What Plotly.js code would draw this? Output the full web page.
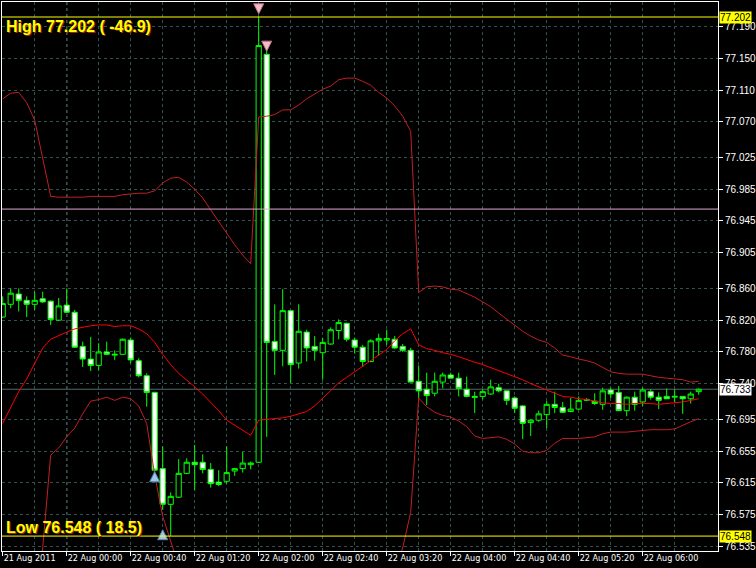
<!DOCTYPE html>
<html>
<head>
<meta charset="utf-8">
<script src="https://cdn.plot.ly/plotly-3.0.1.min.js"></script>
<style>
html,body{margin:0;padding:0;background:#000;}
#chart{width:756px;height:568px;}
</style>
</head>
<body>
<div id="chart"></div>
<script>
// ---- bar times (M5) ----
const times21 = ['23:20','23:25','23:30','23:35','23:40','23:45','23:50','23:55'];
const times22 = ['00:00','00:05','00:10','00:15','00:20','00:25','00:30','00:35','00:40','00:45','00:50','00:55',
  '01:00','01:05','01:10','01:15','01:20','01:25','01:30','01:35','01:40','01:45','01:50','01:55',
  '02:00','02:05','02:10','02:15','02:20','02:25','02:30','02:35','02:40','02:45','02:50','02:55',
  '03:00','03:05','03:10','03:15','03:20','03:25','03:30','03:35','03:40','03:45','03:50','03:55',
  '04:00','04:05','04:10','04:15','04:20','04:25','04:30','04:35','04:40','04:45','04:50','04:55',
  '05:00','05:05','05:10','05:15','05:20','05:25','05:30','05:35','05:40','05:45','05:50','05:55',
  '06:00','06:05','06:10','06:15','06:20','06:25','06:30','06:35'];

// ---- OHLC ----
const openP = [76.824,76.840,76.853,76.845,76.840,76.847,76.844,76.820,76.839,76.830,
  76.787,76.771,76.763,76.780,76.776,76.777,76.795,76.769,76.750,76.729,
  76.633,76.588,76.597,76.627,76.641,76.641,76.632,76.616,76.617,76.630,
  76.633,76.638,76.641,77.155,76.793,76.782,76.832,76.766,76.805,76.787,
  76.779,76.790,76.807,76.816,76.795,76.786,76.768,76.794,76.795,76.796,
  76.787,76.782,76.743,76.733,76.728,76.742,76.751,76.747,76.733,76.724,
  76.724,76.727,76.735,76.731,76.722,76.712,76.691,76.694,76.701,76.714,
  76.710,76.705,76.708,76.719,76.718,76.714,76.732,76.729,76.706,76.723,
  76.717,76.730,76.723,76.724,76.723,76.724,76.721,76.730];
const highP = [76.850,76.860,76.860,76.850,76.856,76.856,76.845,76.848,76.860,76.833,
  76.793,76.799,76.791,76.793,76.782,76.797,76.798,76.772,76.753,76.730,
  76.661,76.603,76.645,76.646,76.663,76.651,76.640,76.631,76.661,76.634,
  76.654,76.642,77.202,77.160,76.840,76.859,76.833,76.840,76.808,76.800,
  76.798,76.811,76.821,76.817,76.798,76.789,76.796,76.803,76.808,76.800,
  76.790,76.785,76.763,76.754,76.754,76.754,76.754,76.754,76.749,76.730,
  76.733,76.745,76.740,76.731,76.724,76.713,76.695,76.706,76.718,76.730,
  76.717,76.722,76.724,76.722,76.728,76.735,76.735,76.737,76.724,76.730,
  76.735,76.733,76.729,76.734,76.733,76.724,76.730,76.734];
const lowP = [76.823,76.835,76.831,76.824,76.833,76.842,76.814,76.819,76.829,76.785,
  76.761,76.756,76.757,76.776,76.770,76.777,76.766,76.748,76.711,76.629,
  76.581,76.548,76.596,76.626,76.606,76.627,76.609,76.611,76.614,76.624,
  76.628,76.632,76.640,76.673,76.751,76.762,76.741,76.759,76.768,76.769,
  76.745,76.789,76.796,76.793,76.778,76.761,76.767,76.775,76.789,76.784,
  76.780,76.742,76.722,76.713,76.724,76.734,76.747,76.724,76.723,76.703,
  76.720,76.726,76.729,76.713,76.703,76.670,76.674,76.692,76.684,76.703,
  76.703,76.704,76.707,76.718,76.713,76.707,76.722,76.706,76.699,76.706,
  76.712,76.720,76.708,76.721,76.716,76.702,76.715,76.726];
const closeP = [76.841,76.854,76.845,76.840,76.845,76.843,76.821,76.838,76.830,76.786,
  76.771,76.763,76.780,76.777,76.777,76.796,76.770,76.750,76.729,76.631,
  76.588,76.598,76.627,76.641,76.638,76.632,76.614,76.613,76.628,76.633,
  76.640,76.640,77.166,76.792,76.782,76.832,76.764,76.806,76.785,76.782,
  76.792,76.808,76.817,76.796,76.786,76.768,76.794,76.797,76.797,76.785,
  76.782,76.742,76.731,76.725,76.743,76.751,76.747,76.734,76.724,76.723,
  76.730,76.736,76.731,76.719,76.709,76.690,76.694,76.702,76.714,76.710,
  76.704,76.708,76.719,76.720,76.715,76.731,76.727,76.706,76.723,76.714,
  76.732,76.723,76.719,76.721,76.724,76.721,76.727,76.733];

// ---- indicator lines ----
const bandUpper = [77.099,77.106,77.107,77.094,77.072,77.026,76.976,76.975,76.975,76.975,
  76.975,76.976,76.976,76.976,76.976,76.978,76.979,76.980,76.980,76.983,
  76.993,76.999,77.000,76.994,76.985,76.974,76.959,76.944,76.929,76.915,
  76.902,76.891,77.076,77.077,77.079,77.085,77.085,77.091,77.099,77.105,
  77.111,77.115,77.123,77.125,77.125,77.121,77.116,77.107,77.100,77.090,
  77.077,77.058,76.855,76.862,76.863,76.862,76.859,76.858,76.854,76.849,
  76.843,76.837,76.829,76.821,76.814,76.806,76.800,76.795,76.792,76.785,
  76.776,76.774,76.771,76.769,76.766,76.760,76.755,76.753,76.752,76.752,
  76.752,76.750,76.748,76.747,76.746,76.745,76.742,76.743];
const bandMiddle = [76.690,76.711,76.730,76.746,76.765,76.785,76.796,76.801,76.805,76.809,
  76.811,76.813,76.814,76.814,76.812,76.813,76.813,76.809,76.803,76.792,
  76.777,76.764,76.753,76.745,76.736,76.727,76.717,76.706,76.694,76.688,
  76.682,76.675,76.694,76.695,76.696,76.697,76.699,76.702,76.705,76.712,
  76.722,76.731,76.741,76.748,76.755,76.762,76.769,76.775,76.783,76.794,
  76.803,76.809,76.789,76.784,76.782,76.779,76.777,76.774,76.770,76.767,
  76.764,76.760,76.756,76.753,76.748,76.745,76.740,76.736,76.731,76.728,
  76.724,76.723,76.721,76.720,76.718,76.716,76.715,76.715,76.714,76.715,
  76.715,76.715,76.714,76.715,76.716,76.717,76.719,76.721];
const bandLower = [76.300,76.330,76.370,76.410,76.460,76.533,76.650,76.659,76.673,76.684,
  76.702,76.718,76.720,76.723,76.719,76.723,76.721,76.712,76.690,76.625,
  76.573,76.542,76.510,76.490,76.475,76.465,76.460,76.460,76.465,76.470,
  76.480,76.490,76.300,76.270,76.270,76.270,76.280,76.280,76.290,76.300,
  76.310,76.330,76.350,76.370,76.390,76.410,76.430,76.450,76.470,76.505,
  76.533,76.578,76.722,76.711,76.704,76.700,76.698,76.693,76.686,76.674,
  76.671,76.672,76.673,76.670,76.664,76.655,76.653,76.653,76.656,76.665,
  76.671,76.671,76.671,76.672,76.673,76.677,76.679,76.679,76.679,76.680,
  76.681,76.682,76.682,76.682,76.683,76.688,76.692,76.696];

// ---- markers / levels ----
const highArrowBars = [32, 33];
const highArrowY = [77.206, 77.159];
const lowArrowBars = [19, 20];
const lowArrowY = [76.629, 76.556];
const levelHigh = 77.202, levelLow = 76.548, levelBid = 76.733, levelPink = 76.960;
const highText = 'High 77.202 ( -46.9)';
const lowText = 'Low 76.548 ( 18.5)';

// ---- axis ticks ----
const xTickVals = ['2011-08-21 23:20','2011-08-22 00:00','2011-08-22 00:40','2011-08-22 01:20',
  '2011-08-22 02:00','2011-08-22 02:40','2011-08-22 03:20','2011-08-22 04:00',
  '2011-08-22 04:40','2011-08-22 05:20','2011-08-22 06:00'];
const xTickText = ['21 Aug 2011','22 Aug 00:00','22 Aug 00:40','22 Aug 01:20','22 Aug 02:00',
  '22 Aug 02:40','22 Aug 03:20','22 Aug 04:00','22 Aug 04:40','22 Aug 05:20','22 Aug 06:00'];
const xGridVals = ['2011-08-21 23:40','2011-08-22 00:20','2011-08-22 01:00','2011-08-22 01:40',
  '2011-08-22 02:20','2011-08-22 03:00','2011-08-22 03:40','2011-08-22 04:20',
  '2011-08-22 05:00','2011-08-22 05:40','2011-08-22 06:20'];
const yTickVals = [77.190,77.150,77.110,77.070,77.025,76.985,76.945,76.905,76.860,
  76.820,76.780,76.740,76.695,76.655,76.615,76.575,76.535];

const x = times21.map(t => '2011-08-21 ' + t).concat(times22.map(t => '2011-08-22 ' + t));

const GRID = '#31534F';
const traces = [
  {type:'candlestick', x:x, open:openP, high:highP, low:lowP, close:closeP,
   increasing:{line:{color:'#00FF00', width:1}, fillcolor:'#000000'},
   decreasing:{line:{color:'#00FF00', width:1}, fillcolor:'#FFFFFF'},
   whiskerwidth:0, hoverinfo:'skip', showlegend:false},
  {type:'scatter', mode:'lines', x:x, y:bandUpper, line:{color:'#C41E24', width:1}, hoverinfo:'skip', showlegend:false},
  {type:'scatter', mode:'lines', x:x, y:bandLower, line:{color:'#C41E24', width:1}, hoverinfo:'skip', showlegend:false},
  {type:'scatter', mode:'lines', x:x, y:bandMiddle, line:{color:'#FF0000', width:1}, hoverinfo:'skip', showlegend:false},
  {type:'scatter', mode:'markers', x:highArrowBars.map(i => x[i]), y:highArrowY,
   marker:{symbol:'arrow-down', size:10, color:'#F4BCC8', line:{width:1, color:'#C07080'}}, hoverinfo:'skip', showlegend:false},
  {type:'scatter', mode:'markers', x:lowArrowBars.map(i => x[i]), y:lowArrowY,
   marker:{symbol:'arrow-up', size:10, color:'#9CC6EE', line:{width:1, color:'#5A86B0'}}, hoverinfo:'skip', showlegend:false}
];

function hline(y, color, layer) {
  return {type:'line', xref:'paper', x0:0, x1:1, yref:'y', y0:y, y1:y, line:{color:color, width:1}, layer:layer};
}
function priceBox(y, bg) {
  return {xref:'paper', x:1, xanchor:'left', xshift:1, yref:'y', y:y, yanchor:'middle',
    text:y.toFixed(3), showarrow:false, bgcolor:bg, borderpad:0,
    font:{family:'Liberation Sans, Arial, sans-serif', size:10, color:'#000000'}};
}

const layout = {
  width:756, height:568,
  paper_bgcolor:'#000000', plot_bgcolor:'#000000',
  margin:{l:2, r:38, t:2, b:17},
  boxgap:0.35, boxgroupgap:0,
  showlegend:false,
  font:{family:'Liberation Sans, Arial, sans-serif', color:'#FFFFFF', size:10},
  xaxis:{type:'date', range:['2011-08-21 23:19:33.75','2011-08-22 06:47:03.75'],
    rangeslider:{visible:false},
    tickmode:'array', tickvals:xTickVals, ticktext:xTickText, tickangle:0,
    ticks:'outside', ticklen:4, tickcolor:'#FFFFFF', tickwidth:1,
    ticklabelposition:'outside right', ticklabelstandoff:-2,
    tickfont:{family:'Liberation Sans Narrow, Arial Narrow, DejaVu Sans Condensed, sans-serif', size:9, color:'#FFFFFF'},
    showgrid:true, gridcolor:GRID, griddash:'3px,3px', gridwidth:1,
    minor:{tickmode:'array', tickvals:xGridVals, showgrid:true, gridcolor:GRID, griddash:'3px,3px', ticks:''},
    showline:true, linecolor:'#FFFFFF', linewidth:1, mirror:true, zeroline:false, fixedrange:true},
  yaxis:{range:[76.5292, 77.2209], side:'right',
    tickmode:'array', tickvals:yTickVals, tickformat:'.3f',
    ticks:'outside', ticklen:4, tickcolor:'#FFFFFF', tickwidth:1,
    tickfont:{family:'Liberation Sans, Arial, sans-serif', size:10, color:'#FFFFFF'},
    showgrid:true, gridcolor:GRID, griddash:'3px,3px', gridwidth:1,
    showline:true, linecolor:'#FFFFFF', linewidth:1, mirror:true, zeroline:false, fixedrange:true},
  shapes:[
    {type:'line', xref:'x', x0:'2011-08-22 00:00', x1:'2011-08-22 00:00', yref:'paper', y0:0, y1:1,
     line:{color:'#FFFFFF', width:1, dash:'3px,3px'}, layer:'below'},
    hline(levelBid, '#4E6A6A', 'below'),
    hline(levelPink, '#E0A8D8', 'above'),
    hline(levelHigh, '#FFFF00', 'above'),
    hline(levelLow, '#FFFF00', 'above')
  ],
  annotations:[
    priceBox(levelHigh, '#FFFF00'),
    priceBox(levelLow, '#FFFF00'),
    priceBox(levelBid, '#FFFFFF'),
    {xref:'paper', x:0, xanchor:'left', xshift:2, yref:'y', y:77.1905, yanchor:'middle',
     text:'<b>'+highText+'</b>', showarrow:false,
     font:{family:'Liberation Sans, Arial, sans-serif', size:16, color:'#FFFF00', shadow:'1px 1px 0px #9A2A00'}},
    {xref:'paper', x:0, xanchor:'left', xshift:2, yref:'y', y:76.5594, yanchor:'middle',
     text:'<b>'+lowText+'</b>', showarrow:false,
     font:{family:'Liberation Sans, Arial, sans-serif', size:16, color:'#FFFF00', shadow:'1px 1px 0px #9A2A00'}}
  ]
};

Plotly.newPlot('chart', traces, layout, {displayModeBar:false, staticPlot:true});
</script>
</body>
</html>
